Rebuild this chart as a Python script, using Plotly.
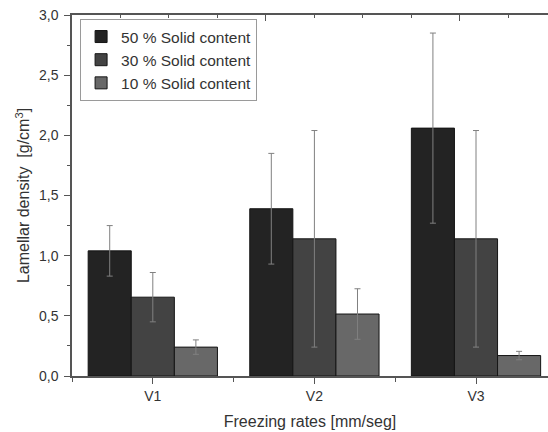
import plotly.graph_objects as go

categories = ["V1", "V2", "V3"]
x_pos = [0, 1, 2]
series_names = ["50 % Solid content", "30 % Solid content", "10 % Solid content"]
vals_50 = [1.04, 1.39, 2.06]
err_50 = [0.21, 0.46, 0.79]
vals_30 = [0.655, 1.14, 1.14]
err_30 = [0.205, 0.90, 0.90]
vals_10 = [0.24, 0.515, 0.17]
err_10 = [0.06, 0.21, 0.035]
y_ticks = [0, 0.5, 1.0, 1.5, 2.0, 2.5, 3.0]
y_ticktext = ["0,0", "0,5", "1,0", "1,5", "2,0", "2,5", "3,0"]

colors = ["#232323", "#434343", "#686868"]
FONT = "Liberation Sans, Arial, sans-serif"
TXT = "#333333"
AX = "#555555"

fig = go.Figure()
for name, v, e, c in zip(series_names, [vals_50, vals_30, vals_10], [err_50, err_30, err_10], colors):
    fig.add_trace(go.Bar(
        x=x_pos, y=v, name=name,
        marker=dict(color=c, line=dict(color="#151515", width=1)),
        error_y=dict(type="data", array=e, visible=True, color="#808080", thickness=1, width=3),
    ))

# invisible trace to activate the top axis
fig.add_trace(go.Scatter(x=[-0.5], y=[0], xaxis="x2", mode="markers",
                         marker=dict(opacity=0), showlegend=False, hoverinfo="skip"))

xr = [-0.5, -0.5 + 476 / 161.6]
fig.update_layout(
    width=548, height=432,
    margin=dict(l=72, r=0, t=15, b=56, autoexpand=False),
    paper_bgcolor="white", plot_bgcolor="white",
    font=dict(family=FONT, color=TXT, size=14),
    barmode="group", bargap=0.2, bargroupgap=0,
    showlegend=True,
    legend=dict(x=0.017, y=0.989, xanchor="left", yanchor="top",
                bgcolor="white", bordercolor="#9a9a9a", borderwidth=1,
                font=dict(size=15.5, family=FONT, color=TXT), tracegroupgap=0),
    xaxis=dict(range=xr, tickmode="array", tickvals=x_pos, ticktext=categories,
               automargin=False,
               showline=True, linecolor=AX, linewidth=1.5, mirror=True,
               ticks="outside", ticklen=6, tickcolor=AX, tickwidth=1.2,
               minor=dict(tick0=-0.5, dtick=1, ticks="outside", ticklen=4, tickcolor=AX),
               showgrid=False, zeroline=False,
               tickfont=dict(size=14),
               title=dict(text="Freezing rates [mm/seg]", font=dict(size=16), standoff=13)),
    xaxis2=dict(range=xr, overlaying="x", side="top", anchor="y", automargin=False,
                showline=False, showticklabels=False, showgrid=False, zeroline=False,
                tickmode="linear", tick0=-0.5, dtick=1.2,
                ticks="inside", ticklen=6, tickcolor=AX, tickwidth=1.2,
                minor=dict(tick0=-0.5, dtick=0.3, ticks="inside", ticklen=3, tickcolor=AX)),
    yaxis=dict(range=[0, 3], tickmode="array", tickvals=y_ticks, ticktext=y_ticktext,
               automargin=False,
               showline=True, linecolor=AX, linewidth=1.5,
               ticks="outside", ticklen=6, tickcolor=AX, tickwidth=1.2,
               ticklabelstandoff=3,
               minor=dict(tick0=0, dtick=0.25, ticks="outside", ticklen=3, tickcolor=AX),
               showgrid=False, zeroline=False, tickfont=dict(size=14),
               title=dict(text="Lamellar density  [g/cm<sup>3</sup>]", font=dict(size=16), standoff=5)),
)

fig.write_html("out.html", config={"displayModeBar": False},
               post_script="document.body.style.margin='0';document.body.style.overflow='hidden';")
